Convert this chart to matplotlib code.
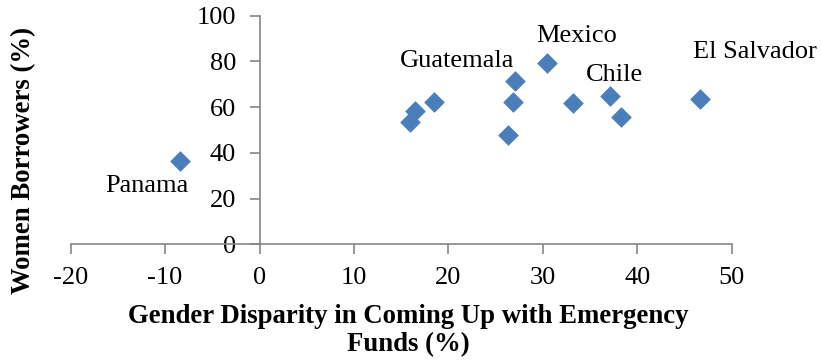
import matplotlib
matplotlib.use('Agg')
import matplotlib.pyplot as plt

# gender disparity in emergency funds (%) vs share of women borrowers (%)
disparity = [-8.4, 15.9, 16.5, 18.5, 26.3, 26.8, 27.1, 30.5, 33.2, 37.1, 38.3, 46.7]
women = [36.4, 53.5, 58.5, 62.4, 47.9, 62.1, 71.6, 79.2, 61.7, 65.0, 55.5, 63.6]

# country labels and where they sit (data coords)
countries = ['Panama', 'Guatemala', 'Mexico', 'Chile', 'El Salvador']
label_x = [-11.9, 20.9, 33.6, 37.6, 52.5]
label_y = [25.6, 80.1, 91.3, 74.1, 84.0]

x_ticks = [-20, -10, 0, 10, 20, 30, 40, 50]
y_ticks = [0, 20, 40, 60, 80, 100]

plt.rcParams['font.family'] = ['Liberation Serif', 'DejaVu Serif']
plt.rcParams['axes.unicode_minus'] = False

fig = plt.figure(figsize=(8.22, 3.6), dpi=100)
ax = fig.add_axes([0.086, 0.3214, 0.804, 0.635])

ax.scatter(disparity, women, marker='D', s=100, color='#4A7EBB',
           edgecolors='#4A7EBB', linewidths=0.5, zorder=3)

for name, lx, ly in zip(countries, label_x, label_y):
    ax.text(lx, ly, name, fontsize=19, ha='center', va='center', clip_on=False)

ax.set_xlim(-20, 50)
ax.set_ylim(0, 100)
ax.set_xticks(x_ticks)
ax.set_yticks(y_ticks)

axis_grey = '#868686'
ax.spines['top'].set_visible(False)
ax.spines['right'].set_visible(False)
ax.spines['left'].set_position(('data', 0))
ax.spines['left'].set_color(axis_grey)
ax.spines['bottom'].set_color(axis_grey)
ax.spines['left'].set_linewidth(1.2)
ax.spines['bottom'].set_linewidth(1.2)

ax.tick_params(axis='both', direction='out', length=7, width=1.2,
               color=axis_grey, labelsize=19)
ax.tick_params(axis='y', pad=10)
ax.tick_params(axis='x', pad=9)

ax.set_xlabel('Gender Disparity in Coming Up with Emergency\nFunds (%)',
              fontsize=19.3, fontweight='bold', linespacing=1.15, labelpad=11)
ax.xaxis.label.set_x(0.511)
ax.set_ylabel('Women Borrowers (%)', fontsize=19.3, fontweight='bold')
ax.yaxis.set_label_coords(-0.052, 0.367)

fig.savefig('out.png', dpi=100)
